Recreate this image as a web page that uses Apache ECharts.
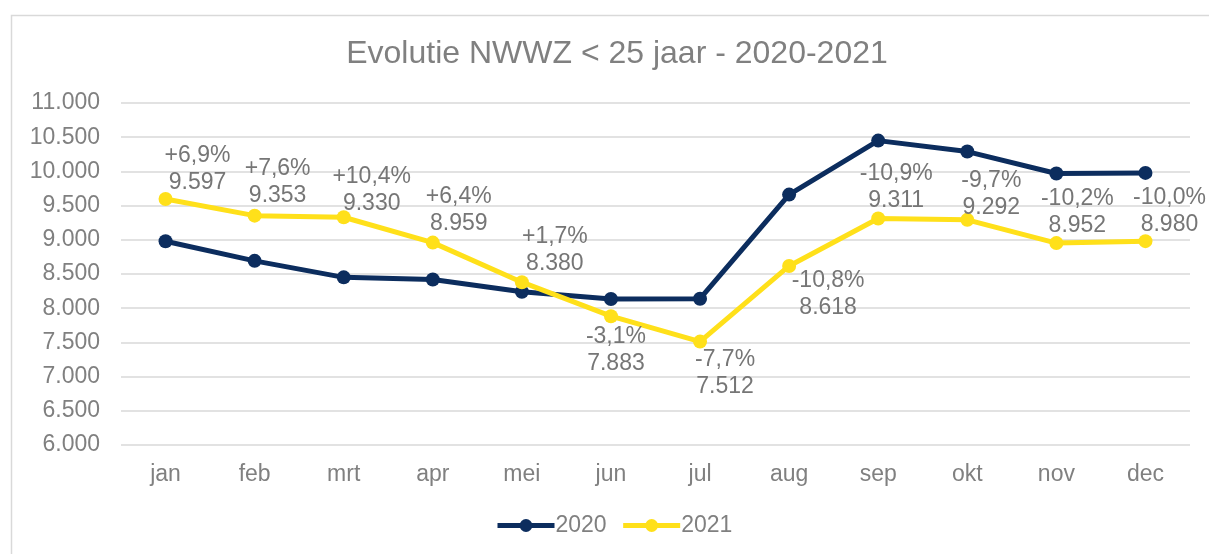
<!DOCTYPE html>
<html>
<head>
<meta charset="utf-8">
<script src="https://cdn.jsdelivr.net/npm/echarts@6/dist/echarts.min.js"></script>
<style>
html,body{margin:0;padding:0;background:#fff;}
#c{width:1209px;height:554px;}
</style>
</head>
<body>
<div id="c"></div>
<script>
const months = ['jan','feb','mrt','apr','mei','jun','jul','aug','sep','okt','nov','dec'];
const values2020 = [8978, 8692, 8451, 8420, 8240, 8135, 8139, 9661, 10450, 10290, 9969, 9978];
const values2021 = [9597, 9353, 9330, 8959, 8380, 7883, 7512, 8618, 9311, 9292, 8952, 8980];
const pctLabels = ['+6,9%','+7,6%','+10,4%','+6,4%','+1,7%','-3,1%','-7,7%','-10,8%','-10,9%','-9,7%','-10,2%','-10,0%'];
const yTicks = {min: 6000, max: 11000, interval: 500};

// label placement (style only)
const labelShift = [[32,-30],[23,-33],[28,-27],[26,-32],[33,-32],[5,34],[25,32],[39,28],[18,-31],[24,-26],[21,-31],[24,-30]];

const fmt = v => v.toLocaleString('de-DE');
const textColor = '#808080';
const font = '"Liberation Sans", Arial, sans-serif';

const chart = echarts.init(document.getElementById('c'), null, {renderer:'canvas'});
chart.setOption({
  animation: false,
  backgroundColor: '#fff',
  textStyle: {fontFamily: font},
  graphic: [{
    type: 'rect', left: 9, top: 13, shape: {width: 1220, height: 560},
    style: {fill: 'none', stroke: '#d9d9d9', lineWidth: 1.5}, z: -1
  }],
  title: {
    text: 'Evolutie NWWZ < 25 jaar - 2020-2021',
    left: 612, textAlign: 'center', top: 33,
    textStyle: {fontSize: 32, fontWeight: 'normal', color: textColor, fontFamily: font}
  },
  legend: {
    bottom: 12, left: 490,
    itemWidth: 57, itemHeight: 16, itemGap: 14,
    lineStyle: {width: 5},
    textStyle: {fontSize: 23, color: textColor, fontFamily: font, padding:[0,0,0,-4]},
    data: ['2020','2021']
  },
  grid: {left: 121, right: 19, top: 103, bottom: 109},
  xAxis: {
    type: 'category', data: months, boundaryGap: true,
    axisLine: {show: false}, axisTick: {show: false},
    axisLabel: {fontSize: 23, color: textColor, margin: 18, fontFamily: font}
  },
  yAxis: {
    type: 'value', min: yTicks.min, max: yTicks.max, interval: yTicks.interval,
    axisLine: {show: false}, axisTick: {show: false},
    splitLine: {lineStyle: {color: '#d9d9d9', width: 1.5}},
    axisLabel: {fontSize: 23, color: textColor, margin: 21, fontFamily: font, formatter: v => fmt(v)}
  },
  series: [{
    name: '2020', type: 'line', data: values2020,
    symbol: 'circle', symbolSize: 14,
    lineStyle: {width: 5, color: '#0c2d5e'},
    itemStyle: {color: '#0c2d5e'}, z: 3
  },{
    name: '2021', type: 'line',
    data: values2021.map((v,i) => ({value: v, label: {offset: labelShift[i]}})),
    symbol: 'circle', symbolSize: 14,
    lineStyle: {width: 5, color: '#ffe01a'},
    itemStyle: {color: '#ffe01a'}, z: 4,
    label: {
      show: true, position: 'inside',
      fontSize: 23, color: '#767676', lineHeight: 27, fontFamily: font, align: 'center',
      formatter: p => pctLabels[p.dataIndex] + '\n' + fmt(values2021[p.dataIndex])
    }
  }]
});
</script>
</body>
</html>
